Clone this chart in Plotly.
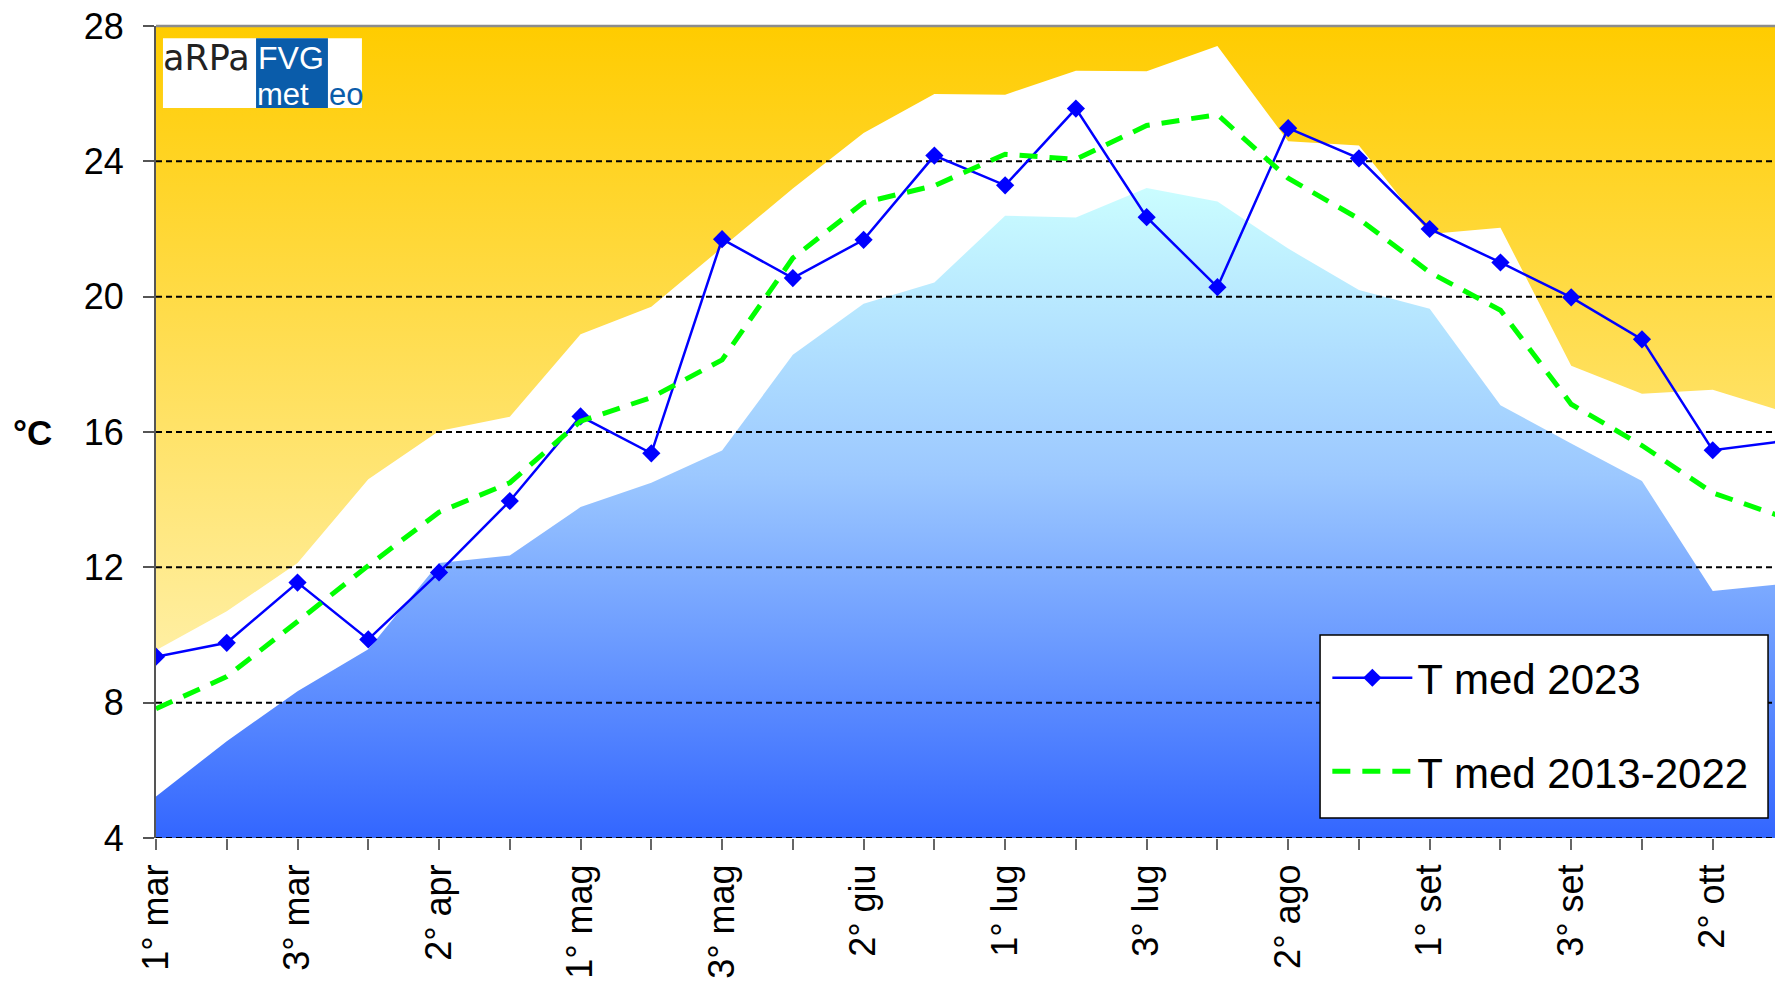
import plotly.graph_objects as go

# decadi (10-day periods), march to october
decadi = ["1° mar", "2° mar", "3° mar", "1° apr", "2° apr", "3° apr",
          "1° mag", "2° mag", "3° mag", "1° giu", "2° giu", "3° giu",
          "1° lug", "2° lug", "3° lug", "1° ago", "2° ago", "3° ago",
          "1° set", "2° set", "3° set", "1° ott", "2° ott", "3° ott"]

t_med_2023 = [9.36, 9.77, 11.55, 9.87, 11.85, 13.96, 16.46, 15.37, 21.70, 20.55,
              21.68, 24.17, 23.29, 25.56, 22.35, 20.28, 24.98, 24.09, 22.00, 21.01,
              19.98, 18.74, 15.46, 15.73]

t_med_2013_2022 = [7.82, 8.77, 10.40, 12.05, 13.63, 14.50, 16.32, 17.02, 18.13, 21.14,
                   22.78, 23.28, 24.21, 24.06, 25.06, 25.38, 23.50, 22.30, 20.72, 19.60,
                   16.82, 15.60, 14.20, 13.48]

# band of the climatology (white area)
banda_sup = [9.55, 10.70, 12.13, 14.60, 16.03, 16.45, 18.89, 19.70, 21.45, 23.20,
             24.84, 25.99, 25.97, 26.68, 26.66, 27.41, 24.59, 24.47, 21.85, 22.04,
             17.96, 17.13, 17.25, 16.60]
banda_inf = [5.23, 6.86, 8.34, 9.58, 12.13, 12.35, 13.78, 14.50, 15.45, 18.28,
             19.79, 20.42, 22.39, 22.34, 23.21, 22.81, 21.42, 20.20, 19.64, 16.79,
             15.66, 14.55, 11.30, 11.51]

y_ticks = [4, 8, 12, 16, 20, 24, 28]
Y_MIN, Y_MAX = 4, 28
X_MAX = 22.88  # chart is cut on the right, just before 3° ott

x = list(range(len(decadi)))
tick_text = [d if i % 2 == 0 else "" for i, d in enumerate(decadi)]
FONT = "Liberation Sans, Arial, sans-serif"
LOGO_BLUE = "#0A5CAA"

fig = go.Figure()

# orange background above the band
fig.add_trace(go.Scatter(
    x=x, y=[Y_MAX] * len(x), mode="lines", line=dict(width=0),
    fill="tozeroy",
    fillgradient=dict(type="vertical", start=Y_MIN, stop=Y_MAX,
                      colorscale=[[0, "#FFF9D2"], [1, "#FFCC00"]]),
    showlegend=False, hoverinfo="skip"))

# white band
fig.add_trace(go.Scatter(
    x=x, y=banda_sup, mode="lines", line=dict(width=0),
    fill="tozeroy", fillcolor="white",
    showlegend=False, hoverinfo="skip"))

# blue area below the band
fig.add_trace(go.Scatter(
    x=x, y=banda_inf, mode="lines", line=dict(width=0),
    fill="tozeroy",
    fillgradient=dict(type="vertical", start=Y_MIN, stop=23.5,
                      colorscale=[[0, "#3366FF"], [0.55, "#9CC8FF"], [1, "#CCFFFF"]]),
    showlegend=False, hoverinfo="skip"))

# dashed gridlines, over the areas but under the series
for v in y_ticks[:-1]:
    fig.add_trace(go.Scatter(
        x=[0, X_MAX], y=[v, v], mode="lines",
        line=dict(color="black", width=2, dash="6px,4px"),
        showlegend=False, hoverinfo="skip"))

fig.add_trace(go.Scatter(
    x=x, y=t_med_2023, name="T med 2023", mode="lines+markers",
    line=dict(color="#0000FF", width=2.5),
    marker=dict(symbol="diamond", size=14, color="#0000FF"),
    legendgroup="a"))

fig.add_trace(go.Scatter(
    x=x, y=t_med_2013_2022, name="T med 2013-2022", mode="lines",
    line=dict(color="#00FF00", width=5, dash="18px,12px"),
    legendgroup="b"))

# legend frame
fig.add_shape(type="rect", xref="paper", yref="paper",
              x0=0.719, x1=0.9957, y0=0.0246, y1=0.25,
              fillcolor="white", line=dict(color="black", width=1.5), layer="above")

# logo box
fig.add_shape(type="rect", xref="paper", yref="paper",
              x0=0.0043, x1=0.1272, y0=0.899, y1=0.985,
              fillcolor="white", line=dict(width=0), layer="above")
fig.add_shape(type="rect", xref="paper", yref="paper",
              x0=0.0618, x1=0.1062, y0=0.899, y1=0.985,
              fillcolor=LOGO_BLUE, line=dict(width=0), layer="above")
# top border
fig.add_shape(type="line", xref="paper", yref="paper", x0=0, x1=1, y0=1, y1=1,
              line=dict(color="#8C8C8C", width=2.5), layer="above")

fig.add_annotation(text="aRPa", xref="paper", yref="paper", x=0.003, y=0.960,
                   xanchor="left", yanchor="middle", showarrow=False,
                   font=dict(family="DejaVu Sans, sans-serif", size=35, color="#222222"))
fig.add_annotation(text="FVG", xref="paper", yref="paper", x=0.062, y=0.960,
                   xanchor="left", yanchor="middle", showarrow=False,
                   font=dict(family=FONT, size=32, color="white"))
fig.add_annotation(text="met", xref="paper", yref="paper", x=0.061, y=0.916,
                   xanchor="left", yanchor="middle", showarrow=False,
                   font=dict(family=FONT, size=31, color="white"))
fig.add_annotation(text="eo", xref="paper", yref="paper", x=0.1058, y=0.916,
                   xanchor="left", yanchor="middle", showarrow=False,
                   font=dict(family=FONT, size=31, color=LOGO_BLUE))

# y axis label, horizontal
fig.add_annotation(text="<b>°C</b>", xref="paper", yref="paper", x=-0.076, y=0.4988,
                   xanchor="center", yanchor="middle", showarrow=False,
                   font=dict(family=FONT, size=35, color="black"))

fig.update_xaxes(
    range=[0, X_MAX], tickmode="array", tickvals=x, ticktext=tick_text,
    tickangle=-90, ticks="outside", ticklen=11, tickwidth=1.5, tickcolor="#666666",
    showgrid=False, zeroline=False, showline=False,
    tickfont=dict(family=FONT, size=36, color="black"))

fig.update_yaxes(
    range=[Y_MIN, Y_MAX], tickmode="array", tickvals=y_ticks,
    ticks="outside", ticklen=11, tickwidth=1.5, tickcolor="#555555",
    ticklabelstandoff=12,
    showgrid=False, zeroline=False, showline=True, linecolor="#555555", linewidth=2,
    layer="above traces",
    tickfont=dict(family=FONT, size=36, color="black"))

fig.update_layout(
    width=1775, height=981,
    margin=dict(l=156, r=0, t=26, b=143),
    paper_bgcolor="white", plot_bgcolor="white",
    font=dict(family=FONT, color="black"),
    hovermode=False,
    legend=dict(x=0.7235, xanchor="left", y=0.239, yanchor="top",
                bgcolor="rgba(0,0,0,0)", borderwidth=0,
                font=dict(family=FONT, size=42, color="black"),
                tracegroupgap=36, traceorder="grouped",
                itemwidth=80),
)

fig.write_html("out.html", config={"displayModeBar": False},
               post_script="document.body.style.margin='0';")
